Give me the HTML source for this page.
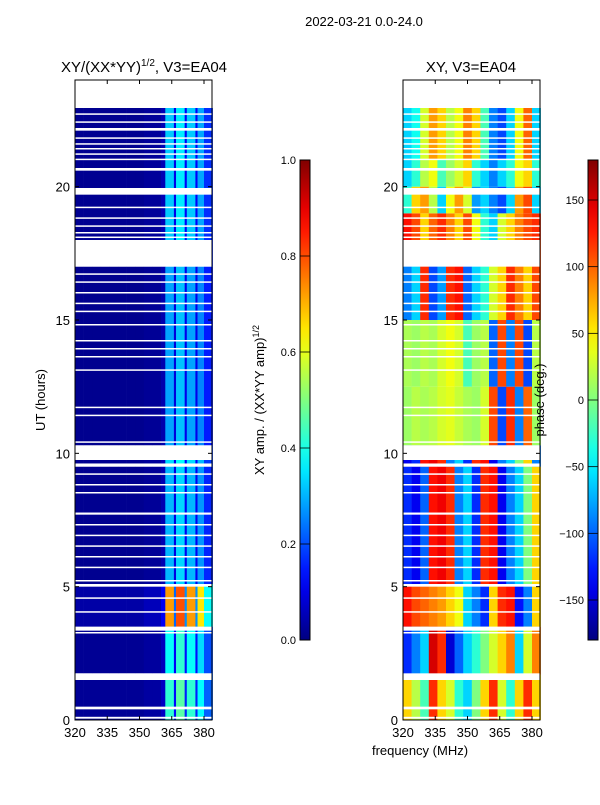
<!DOCTYPE html>
<html><head><meta charset="utf-8"><style>
body{margin:0;background:#fff;}
svg text{font-family:"Liberation Sans","DejaVu Sans",sans-serif;fill:#000;}
</style></head><body>
<svg id="fig" width="600" height="800" xmlns="http://www.w3.org/2000/svg">
<rect width="600" height="800" fill="#fff"/>
<text x="364" y="26" font-size="13" text-anchor="middle">2022-03-21 0.0-24.0</text>
<text x="144" y="72" font-size="15" text-anchor="middle">XY/(XX*YY)<tspan font-size="10" dy="-6">1/2</tspan><tspan dy="6">, V3=EA04</tspan></text>
<text x="471" y="72" font-size="15" text-anchor="middle">XY, V3=EA04</text>
<g id="ampPlot"></g>
<g id="phPlot"></g>
<g id="axes"></g>
<text transform="translate(45,400) rotate(-90)" font-size="13" text-anchor="middle">UT (hours)</text>
<text x="420" y="755" font-size="13" text-anchor="middle">frequency (MHz)</text>
<text transform="translate(264,400) rotate(-90)" font-size="13" text-anchor="middle">XY amp. / (XX*YY amp)<tspan font-size="9" dy="-5">1/2</tspan></text>
<text transform="translate(544,400) rotate(-90)" font-size="13" text-anchor="middle">phase (deg.)</text>
</svg>
<script>
// ---- data ----
const freqEdges = [320,324,328,332,336,340,344,348,352,356,360,362,366,367,371,372,376,377,380,384];
const ampFreqProfile = [0.02,0.02,0.02,0.02,0.02,0.02,0.02,0.02,0.03,0.03,0.06,0.38,0.12,0.42,0.14,0.38,0.14,0.34,0.2];
const ampSegStart = [0.0,1.75,3.5,5.1,9.5,10.3,17.0,18.0];
const ampSegScale = [1.1,1.0,1.9,0.8,0.9,0.75,0.8,0.85];
const phFreqEdges = [320,324,328,332,336,340,344,348,352,356,360,364,368,372,376,380,384];
const phSegStart = [0.0,1.7,3.5,5.1,9.5,10.3,12.5,15.0,18.0,19.0,20.0,21.0];
const phSegVals = [
 [60,20,-20,120,60,30,-30,-60,0,60,120,30,-30,60,120,60],
 [-120,-90,-60,150,120,-150,-100,-60,-30,0,30,60,90,-60,30,90],
 [130,110,100,90,80,60,40,-60,-90,-120,60,120,130,-130,-90,60],
 [-120,-140,-100,130,140,120,-90,-60,-120,120,130,-140,-90,-60,0,60],
 [-140,-120,130,140,120,-90,-60,-120,120,130,-140,-90,-60,0,60,-90],
 [10,20,15,20,30,35,25,15,10,30,110,-110,120,-90,100,10],
 [15,10,20,15,30,40,30,-20,10,20,-100,110,-90,110,-110,20],
 [-90,-60,120,-110,-80,120,130,-100,-60,-30,30,60,120,90,60,110],
 [130,110,60,100,120,90,60,110,40,-30,-60,30,60,90,110,120],
 [-30,60,80,20,-60,40,80,30,-80,-60,-90,-110,-60,80,110,-60],
 [-60,-30,20,40,-20,10,30,60,-30,-60,-90,-60,-30,40,60,-30],
 [-60,-40,30,80,60,20,40,90,60,-20,-90,-110,-60,40,100,-60]
];
const dataEnd = 22.95;
const gaps = [[17.0,18.0],[19.7,19.95],[9.5,9.62],[9.75,10.3],[1.5,1.75],[0.4,0.5],[0.05,0.12],[3.35,3.5],[3.25,3.3],[5.0,5.1],[5.2,5.25],[4.55,4.6],[4.05,4.08],
 [22.7,22.75],[22.4,22.45],[22.1,22.2],[21.8,21.85],[21.6,21.63],[21.4,21.45],[21.2,21.25],[21.0,21.05],[20.6,20.7],[19.2,19.25],[18.8,18.85],[18.5,18.55],[18.25,18.3],[18.1,18.13],
 [16.7,16.75],[16.4,16.45],[16.0,16.05],[15.6,15.65],[15.3,15.35],[14.8,14.85],[14.2,14.25],[13.9,13.95],[13.6,13.65],[13.1,13.15],[11.7,11.75],[11.4,11.45],[10.4,10.45],
 [9.2,9.25],[8.8,8.85],[8.5,8.55],[7.7,7.78],[7.3,7.35],[6.9,6.95],[6.5,6.55],[6.1,6.15],[5.7,5.75]];
const yTicks = [0,5,10,15,20];
const xTicks = [320,335,350,365,380];
const ampCbTicks = [0.0,0.2,0.4,0.6,0.8,1.0];
const phCbTicks = [-150,-100,-50,0,50,100,150];

// ---- helpers ----
const NS="http://www.w3.org/2000/svg";
function jet(v){v=Math.max(0,Math.min(1,v));
 const r=Math.max(0,Math.min(1,1.5-Math.abs(4*v-3))),g=Math.max(0,Math.min(1,1.5-Math.abs(4*v-2))),b=Math.max(0,Math.min(1,1.5-Math.abs(4*v-1)));
 return `rgb(${Math.round(r*255)},${Math.round(g*255)},${Math.round(b*255)})`;}
function mk(tag,attrs,parent){const e=document.createElementNS(NS,tag);for(const k in attrs)e.setAttribute(k,attrs[k]);parent.appendChild(e);return e;}
const Y0=720,Y1=80;
function yScale(h){return Y0-(h/24)*(Y0-Y1);}
function xAmp(f){return 75+(f-320)*(204-75)/60;}
function xPh(f){return 403+(f-320)*(204-75)/60;}

const ampG=document.getElementById('ampPlot'), phG=document.getElementById('phPlot'), ax=document.getElementById('axes');
for(let s=0;s<ampSegStart.length;s++){
 const h0=ampSegStart[s], h1=(s+1<ampSegStart.length?ampSegStart[s+1]:dataEnd);
 for(let c=0;c<ampFreqProfile.length;c++){
  const r=mk('rect',{x:xAmp(freqEdges[c]),y:yScale(h1),width:xAmp(freqEdges[c+1])-xAmp(freqEdges[c])+0.3,height:yScale(h0)-yScale(h1),fill:jet(ampFreqProfile[c]*ampSegScale[s])},ampG);
  
  
 }
}
for(let s=0;s<phSegStart.length;s++){
 const h0=phSegStart[s], h1=(s+1<phSegStart.length?phSegStart[s+1]:dataEnd);
 for(let c=0;c<phSegVals[s].length;c++){
  const r=mk('rect',{x:xPh(phFreqEdges[c]),y:yScale(h1),width:xPh(phFreqEdges[c+1])-xPh(phFreqEdges[c])+0.3,height:yScale(h0)-yScale(h1),fill:jet((phSegVals[s][c]+180)/360)},phG);
  
  
 }
}
for(const [a,b] of gaps){
 for(const x0 of [75,403]){
  const r=mk('rect',{x:x0,y:yScale(b),width:137,height:Math.max(1.5,yScale(a)-yScale(b)),fill:'#fff'},ax);
  
  
 }
}
for(const [x0,xs] of [[75,xAmp],[403,xPh]]){
 const f=mk('rect',{x:x0,y:80,width:137,height:640,fill:'none',stroke:'#000','stroke-width':1},ax);
 
 
 for(const t of yTicks){const y=yScale(t);
  mk('line',{x1:x0,x2:x0+4,y1:y,y2:y,stroke:'#000'},ax);mk('line',{x1:x0+137,x2:x0+133,y1:y,y2:y,stroke:'#000'},ax);
  const tx=mk('text',{x:x0-5,y:y+5,'font-size':13,'text-anchor':'end'},ax);tx.textContent=t;
  
  }
 for(const t of xTicks){const x=xs(t);
  mk('line',{x1:x,x2:x,y1:720,y2:716,stroke:'#000'},ax);mk('line',{x1:x,x2:x,y1:80,y2:84,stroke:'#000'},ax);
  const tx=mk('text',{x:x,y:737,'font-size':13,'text-anchor':'middle'},ax);tx.textContent=t;
  
  }
}
const defs=mk('defs',{},ax);const gr=mk('linearGradient',{id:'jetg',x1:0,y1:1,x2:0,y2:0},defs);
for(let i=0;i<=20;i++)mk('stop',{offset:i/20,'stop-color':jet(i/20)},gr);
for(const [cx,ticks,lo,hi,nm] of [[300,ampCbTicks,0,1,'amp-colorbar'],[588,phCbTicks,-180,180,'phase-colorbar']]){
 const r=mk('rect',{x:cx,y:160,width:10,height:480,fill:'url(#jetg)',stroke:'#000'},ax);
 
 
 for(const t of ticks){const y=640-(t-lo)/(hi-lo)*480;
  mk('line',{x1:cx,x2:cx+10,y1:y,y2:y,stroke:'#000','stroke-width':0.8},ax);
  const tx=mk('text',{x:cx-4,y:y+4,'font-size':11,'text-anchor':'end'},ax);
  tx.textContent=(lo===0?t.toFixed(1):(t<0?'\u2212'+(-t):t));
  
  }
}
</script>
</body></html>
